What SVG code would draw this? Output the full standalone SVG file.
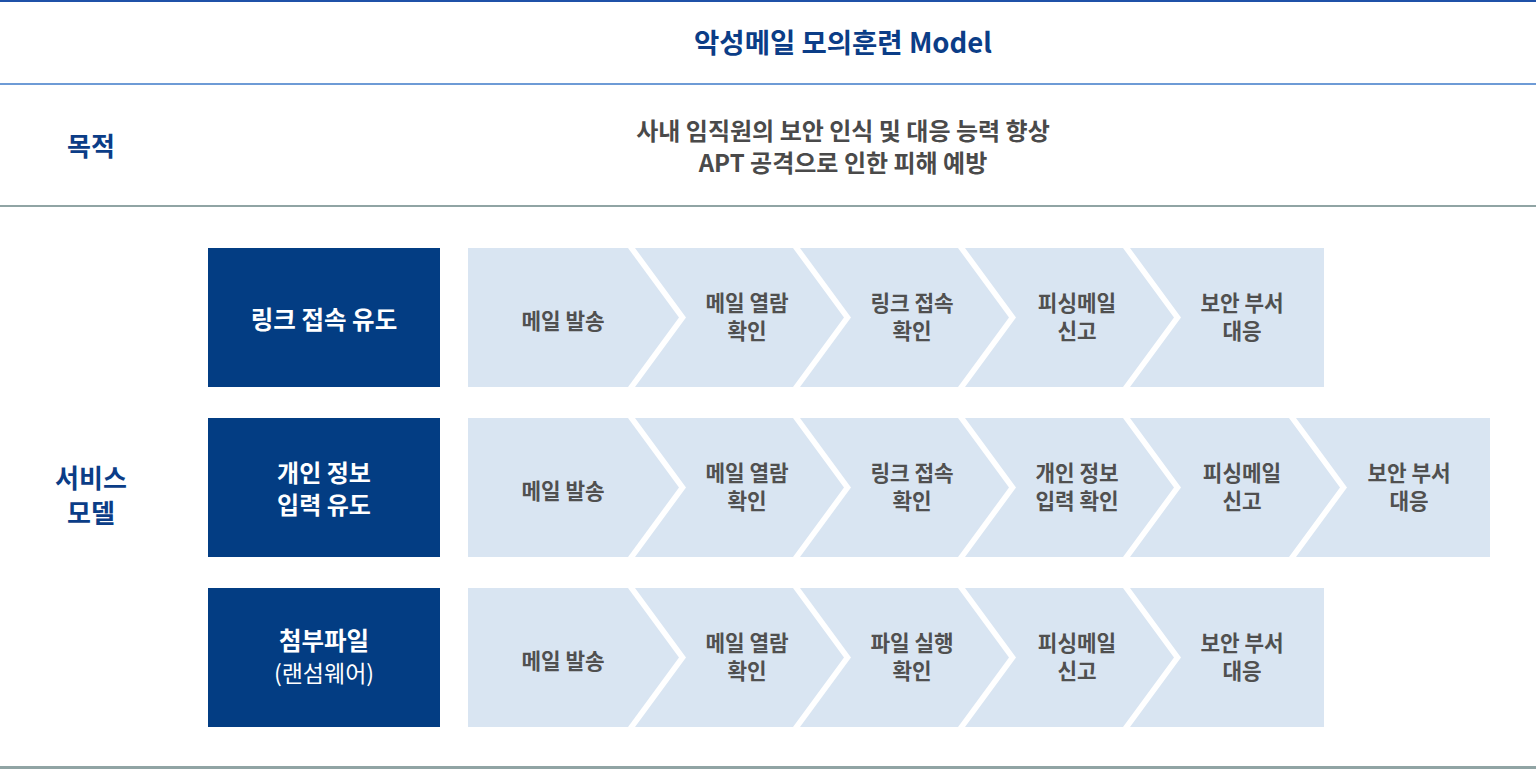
<svg xmlns="http://www.w3.org/2000/svg" width="1536" height="769" viewBox="0 0 1536 769">
<style>
text{font-family:"Noto Sans CJK KR","Noto Sans",sans-serif;text-anchor:middle}
.title{font-size:27.5px;font-weight:700;fill:#0b3d87}
.side{font-size:26px;font-weight:700;fill:#0b3d87}
.purpose{font-size:24px;font-weight:700;fill:#4a4a4a}
.box{fill:#033d83}
.boxt{font-size:24.5px;font-weight:700;fill:#ffffff}
.boxt2{font-size:24px;font-weight:700;fill:#ffffff}
.boxr{font-size:23px;font-weight:400;fill:#ffffff}
.chev{fill:#d9e5f2}
.ct{font-size:21.3px;font-weight:700;fill:#505050}
</style>
<rect width="1536" height="769" fill="#ffffff"/>
<g id="rules">
<rect x="0" y="0" width="1536" height="2" fill="#1f51a8"/>
<rect x="0" y="83" width="1536" height="2" fill="#6e9bd6"/>
<rect x="0" y="205" width="1536" height="2" fill="#90a4a4"/>
<rect x="0" y="766" width="1536" height="3" fill="#90a4a4"/>
</g>
<g id="title"><text class="title" x="843" y="53">악성메일 모의훈련 Model</text></g>
<g id="label-purpose"><text class="side" x="91" y="156">목적</text></g>
<g id="purpose">
<text class="purpose" x="843" y="140">사내 임직원의 보안 인식 및 대응 능력 향상<tspan x="843" dy="32">APT 공격으로 인한 피해 예방</tspan></text>
</g>
<g id="label-service"><text class="side" x="91" y="488">서비스<tspan x="91" dy="35">모델</tspan></text></g>

<g id="row1-head"><rect class="box" x="208" y="248" width="232" height="139"/><text class="boxt" x="324" y="329">링크 접속 유도</text></g>
<g id="row1-s1"><polygon class="chev" points="468,248 628,248 679,317.5 628,387 468,387"/><text class="ct" x="563" y="329">메일 발송</text></g>
<g id="row1-s2"><polygon class="chev" points="635,248 793,248 844,317.5 793,387 635,387 686,317.5"/><text class="ct" x="747" y="311">메일 열람<tspan x="747" dy="28">확인</tspan></text></g>
<g id="row1-s3"><polygon class="chev" points="800,248 958,248 1009,317.5 958,387 800,387 851,317.5"/><text class="ct" x="912" y="311">링크 접속<tspan x="912" dy="28">확인</tspan></text></g>
<g id="row1-s4"><polygon class="chev" points="965,248 1123,248 1174,317.5 1123,387 965,387 1016,317.5"/><text class="ct" x="1077" y="311">피싱메일<tspan x="1077" dy="28">신고</tspan></text></g>
<g id="row1-s5"><polygon class="chev" points="1130,248 1324,248 1324,387 1130,387 1181,317.5"/><text class="ct" x="1242" y="311">보안 부서<tspan x="1242" dy="28">대응</tspan></text></g>

<g id="row2-head"><rect class="box" x="208" y="418" width="232" height="139"/><text class="boxt2" x="324" y="482">개인 정보<tspan x="324" dy="32">입력 유도</tspan></text></g>
<g id="row2-s1"><polygon class="chev" points="468,418 628,418 679,487.5 628,557 468,557"/><text class="ct" x="563" y="499">메일 발송</text></g>
<g id="row2-s2"><polygon class="chev" points="635,418 793,418 844,487.5 793,557 635,557 686,487.5"/><text class="ct" x="747" y="481">메일 열람<tspan x="747" dy="28">확인</tspan></text></g>
<g id="row2-s3"><polygon class="chev" points="800,418 958,418 1009,487.5 958,557 800,557 851,487.5"/><text class="ct" x="912" y="481">링크 접속<tspan x="912" dy="28">확인</tspan></text></g>
<g id="row2-s4"><polygon class="chev" points="965,418 1123,418 1174,487.5 1123,557 965,557 1016,487.5"/><text class="ct" x="1077" y="481">개인 정보<tspan x="1077" dy="28">입력 확인</tspan></text></g>
<g id="row2-s5"><polygon class="chev" points="1130,418 1289,418 1340,487.5 1289,557 1130,557 1181,487.5"/><text class="ct" x="1242" y="481">피싱메일<tspan x="1242" dy="28">신고</tspan></text></g>
<g id="row2-s6"><polygon class="chev" points="1296,418 1490,418 1490,557 1296,557 1347,487.5"/><text class="ct" x="1409" y="481">보안 부서<tspan x="1409" dy="28">대응</tspan></text></g>

<g id="row3-head"><rect class="box" x="208" y="588" width="232" height="139"/><text class="boxt" x="324" y="650">첨부파일<tspan class="boxr" x="324" dy="32">(랜섬웨어)</tspan></text></g>
<g id="row3-s1"><polygon class="chev" points="468,588 628,588 679,657.5 628,727 468,727"/><text class="ct" x="563" y="669">메일 발송</text></g>
<g id="row3-s2"><polygon class="chev" points="635,588 793,588 844,657.5 793,727 635,727 686,657.5"/><text class="ct" x="747" y="651">메일 열람<tspan x="747" dy="28">확인</tspan></text></g>
<g id="row3-s3"><polygon class="chev" points="800,588 958,588 1009,657.5 958,727 800,727 851,657.5"/><text class="ct" x="912" y="651">파일 실행<tspan x="912" dy="28">확인</tspan></text></g>
<g id="row3-s4"><polygon class="chev" points="965,588 1123,588 1174,657.5 1123,727 965,727 1016,657.5"/><text class="ct" x="1077" y="651">피싱메일<tspan x="1077" dy="28">신고</tspan></text></g>
<g id="row3-s5"><polygon class="chev" points="1130,588 1324,588 1324,727 1130,727 1181,657.5"/><text class="ct" x="1242" y="651">보안 부서<tspan x="1242" dy="28">대응</tspan></text></g>
<g id="connectors"></g>
</svg>
